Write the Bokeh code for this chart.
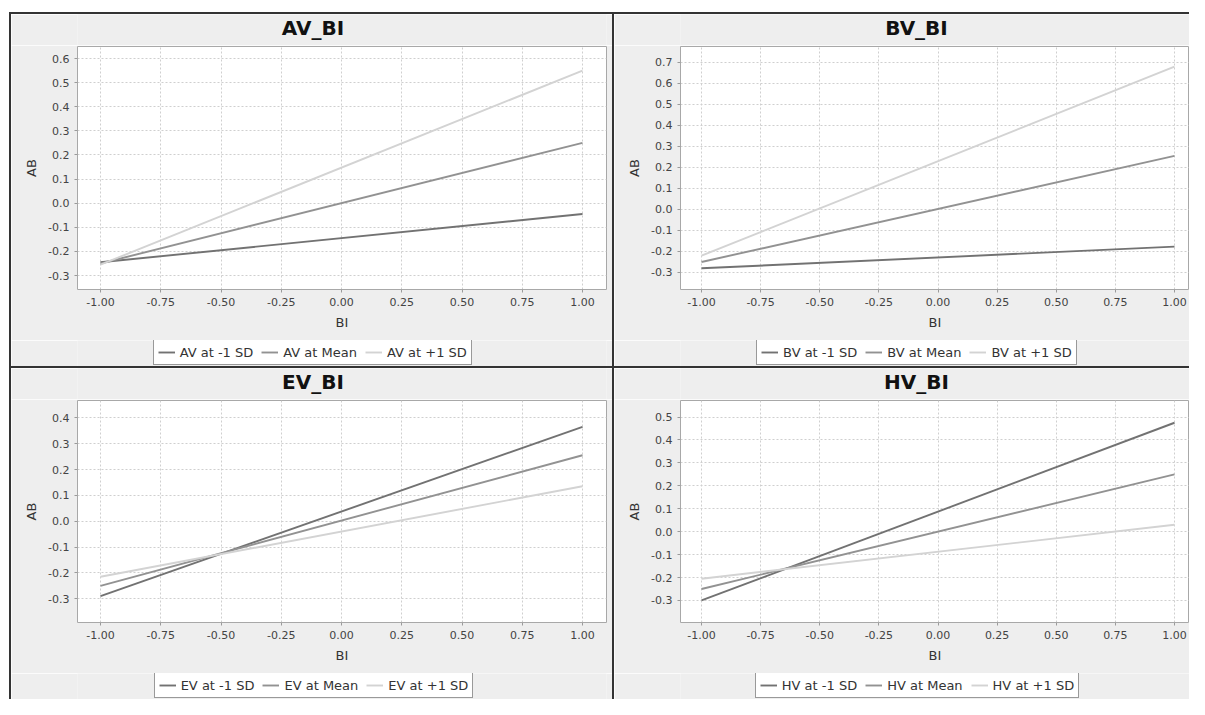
from bokeh.plotting import figure
from bokeh.models import (Range1d, FixedTicker, NumeralTickFormatter, Legend,
                          LegendItem, Label, Spacer)
from bokeh.layouts import row, column
from bokeh.embed import file_html
from bokeh.resources import INLINE

# ---------------- data ----------------
BI = [-1.0, 1.0]

AV_low = [-0.245, -0.045]
AV_mean = [-0.250, 0.250]
AV_high = [-0.255, 0.550]

BV_low = [-0.280, -0.177]
BV_mean = [-0.250, 0.255]
BV_high = [-0.220, 0.680]

EV_low = [-0.290, 0.365]
EV_mean = [-0.250, 0.255]
EV_high = [-0.215, 0.135]

HV_low = [-0.300, 0.475]
HV_mean = [-0.250, 0.250]
HV_high = [-0.205, 0.030]

x_ticks = [-1.0, -0.75, -0.5, -0.25, 0.0, 0.25, 0.5, 0.75, 1.0]
AV_yticks = [-0.3, -0.2, -0.1, 0.0, 0.1, 0.2, 0.3, 0.4, 0.5, 0.6]
BV_yticks = [-0.3, -0.2, -0.1, 0.0, 0.1, 0.2, 0.3, 0.4, 0.5, 0.6, 0.7]
EV_yticks = [-0.3, -0.2, -0.1, 0.0, 0.1, 0.2, 0.3, 0.4]
HV_yticks = [-0.3, -0.2, -0.1, 0.0, 0.1, 0.2, 0.3, 0.4, 0.5]

series_suffix = ["at -1 SD", "at Mean", "at +1 SD"]

# ---------------- styles ----------------
FONT = "DejaVu Sans"
LINE_COLORS = ["#727272", "#929292", "#d3d3d3"]
LINE_W = 1.9
PANEL_BG = "#eeeeee"
BORDER = "#333333"
MBL = 66  # left border of every plot area (strips are aligned to it too)

# approximate DejaVu Sans advance widths (em) for centring the legend
CW = {"A": .684, "V": .684, " ": .318, "a": .613, "t": .392, "-": .361, "1": .636,
      "S": .635, "D": .770, "M": .863, "e": .615, "n": .634, "+": .838, "B": .686,
      "E": .632, "H": .752}


def text_w(s, size):
    return sum(CW.get(c, .6) for c in s) * size


def strip(w, h):
    # ranges far away from the data so the helper lines stay invisible
    s = figure(width=w, height=h, x_range=Range1d(10, 11), y_range=Range1d(10, 11),
               output_backend="svg", toolbar_location=None, title=None,
               x_axis_location=None, y_axis_location=None, min_border=0,
               background_fill_color=PANEL_BG, border_fill_color=PANEL_BG,
               outline_line_color=None)
    s.grid.visible = False
    return s


TITLE_H, LEG_H, AX_H = 31, 26, 51


def make_panel(name, prefix, low, mean, high, yticks, yr, xr, w, h, mb_right, centre):
    c_rel = centre - MBL
    # --- title strip
    t = strip(w, TITLE_H)
    t.add_layout(Label(x=c_rel, y=18, x_units="screen", y_units="screen",
                       text=name, text_align="center", text_baseline="alphabetic",
                       text_font=FONT, text_font_size="20px",
                       text_font_style="bold", text_color="#111111"))

    # --- main plot
    mh = h - TITLE_H - LEG_H
    p = figure(width=w, height=mh, x_range=Range1d(*xr), y_range=Range1d(*yr),
               output_backend="svg", toolbar_location=None, title=None,
               min_border_left=MBL, min_border_right=mb_right,
               min_border_top=1, min_border_bottom=AX_H,
               background_fill_color="white", border_fill_color=PANEL_BG,
               outline_line_color="#a8a8a8")
    for ys, c in zip([low, mean, high], LINE_COLORS):
        p.line(BI, ys, line_color=c, line_width=LINE_W)

    for ax in (p.xaxis[0], p.yaxis[0]):
        ax.axis_line_color = None
        ax.major_tick_line_color = "#9a9a9a"
        ax.major_tick_out = 3
        ax.major_tick_in = 0
        ax.minor_tick_line_color = None
        ax.major_label_text_font = FONT
        ax.major_label_text_font_size = "11px"
        ax.major_label_text_color = "#444444"
        ax.axis_label_text_font = FONT
        ax.axis_label_text_font_size = "13px"
        ax.axis_label_text_font_style = "normal"
        ax.axis_label_text_color = "#333333"
        ax.major_label_standoff = 5
        ax.axis_label_standoff = 6
    p.xaxis[0].ticker = FixedTicker(ticks=x_ticks)
    p.xaxis[0].formatter = NumeralTickFormatter(format="0.00")
    p.xaxis[0].axis_label = "BI"
    p.yaxis[0].ticker = FixedTicker(ticks=yticks)
    p.yaxis[0].formatter = NumeralTickFormatter(format="0.0")
    p.yaxis[0].axis_label = "AB"

    for g in (p.xgrid[0], p.ygrid[0]):
        g.grid_line_color = "#cfcfcf"
        g.grid_line_dash = "2 2"
        g.grid_line_width = 1

    # --- legend strip (same series drawn off-range, only their legend shows)
    l = strip(w, LEG_H)
    rs = [l.line(BI, ys, line_color=c, line_width=LINE_W)
          for ys, c in zip([low, mean, high], LINE_COLORS)]
    labels = [f"{prefix} {s}" for s in series_suffix]
    pad, gw, stand, spc, fs, gh = 4, 17, 5, 8, 13, 16
    lw = 2 * pad + 3 * (gw + stand) + 2 * spc + sum(text_w(s, fs) for s in labels)
    legend = Legend(items=[LegendItem(label=s, renderers=[r]) for s, r in zip(labels, rs)],
                    orientation="horizontal", location=(c_rel - lw / 2, 1), margin=0,
                    padding=pad, spacing=spc, glyph_width=gw, glyph_height=gh,
                    label_height=gh, label_standoff=stand,
                    label_text_font=FONT, label_text_font_size=f"{fs}px",
                    label_text_color="#333333",
                    border_line_color="#333333", border_line_width=1,
                    background_fill_color="white", background_fill_alpha=1.0)
    l.add_layout(legend)
    return column(t, p, l)


W1, W2 = 601, 575
H1, H3 = 352, 331

xr_left = (-1 - 23 / 241, -1 - 23 / 241 + 529 / 241)
sc_r = 236.5
xr_right = (-1 - 21 / sc_r, -1 - 21 / sc_r + 509 / sc_r)

p1 = make_panel("AV_BI", "AV", AV_low, AV_mean, AV_high, AV_yticks, (-0.358, 0.650),
                xr_left, W1, H1, 6, 301.5)
p2 = make_panel("BV_BI", "BV", BV_low, BV_mean, BV_high, BV_yticks, (-0.381, 0.776),
                xr_right, W2, H1, 0, 302)
p3 = make_panel("EV_BI", "EV", EV_low, EV_mean, EV_high, EV_yticks, (-0.392, 0.467),
                xr_left, W1, H3, 6, 301.5)
p4 = make_panel("HV_BI", "HV", HV_low, HV_mean, HV_high, HV_yticks, (-0.396, 0.572),
                xr_right, W2, H3, 0, 302)


def vline(h):
    return Spacer(width=2, height=h, styles={"background-color": BORDER})


def hline(w):
    return Spacer(width=w, height=2, styles={"background-color": BORDER})


total_w = 2 + W1 + 2 + W2
inner = column(hline(total_w),
               row(vline(H1), p1, vline(H1), p2),
               hline(total_w),
               row(vline(H3), p3, vline(H3), p4))
layout = column(Spacer(width=1, height=12),
                row(Spacer(width=9, height=2 + H1 + 2 + H3), inner))

open("out.html", "w").write(file_html(layout, INLINE))
